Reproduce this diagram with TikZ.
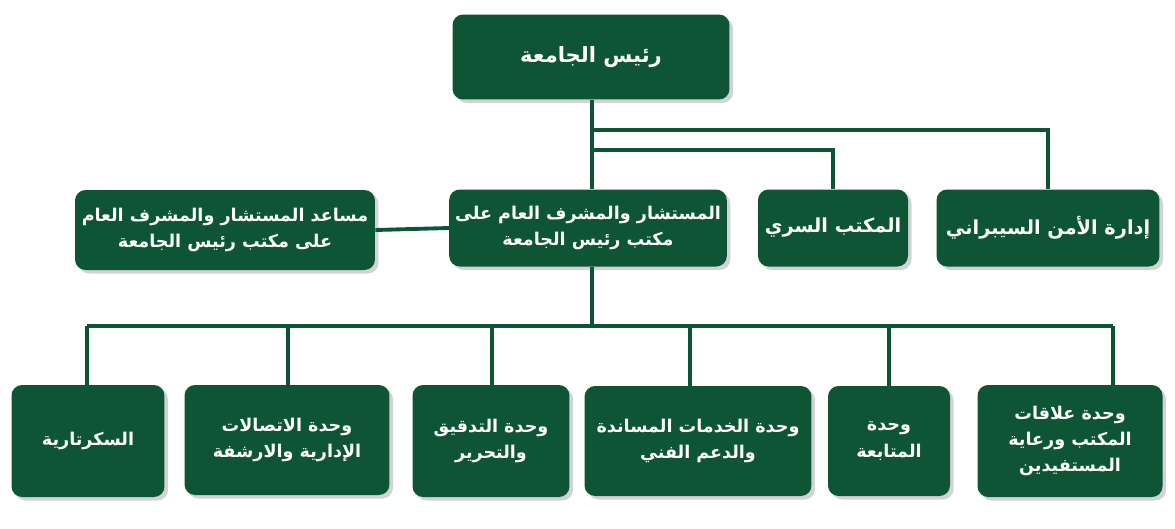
\documentclass[tikz,border=0pt]{standalone}
\usepackage{fontspec}
\newfontfamily\arabicfont[Script=Arabic]{DejaVu Sans}
\TeXXeTstate=1
\usepackage{tikz}
\usetikzlibrary{shadows}
\definecolor{unigreen}{HTML}{0E5536}
\newcommand{\ar}[1]{\beginR#1\endR}
\tikzset{unit/.style={draw=none,fill=unigreen,rounded corners=6pt,text=white,
  font=\arabicfont\bfseries\fontsize{10}{15}\selectfont,align=center,
  drop shadow={shadow xshift=2pt,shadow yshift=-2pt,opacity=0.35}},
  link/.style={draw=unigreen,line width=2.2pt}}

\begin{document}
\begin{tikzpicture}[x=0.02cm,y=-0.02cm]
  \useasboundingbox (0,0) rectangle (1175,528);
  \node[unit,minimum width=5.54cm,minimum height=1.7cm] (head) at (591,57) {\fontsize{12}{15}\selectfont\ar{رئيس الجامعة}};
  \node[unit,minimum width=5.54cm,minimum height=1.54cm] (adv) at (588,228) {\ar{المستشار والمشرف العام على}\\\ar{مكتب رئيس الجامعة}};
  \node[unit,minimum width=6cm,minimum height=1.6cm] (asst) at (225,230) {\ar{مساعد المستشار والمشرف العام}\\\ar{على مكتب رئيس الجامعة}};
  \node[unit,minimum width=3cm,minimum height=1.54cm] (secret) at (833,228) {\fontsize{11}{15}\selectfont\ar{المكتب السري}};
  \node[unit,minimum width=4.46cm,minimum height=1.54cm] (cyber) at (1048,228) {\fontsize{11}{15}\selectfont\ar{إدارة الأمن السيبراني}};

  \node[unit,minimum width=3.06cm,minimum height=2.24cm] (u1) at (88,441) {\ar{السكرتارية}};
  \node[unit,minimum width=4.1cm,minimum height=2.2cm] (u2) at (287,440) {\ar{وحدة الاتصالات}\\\ar{الإدارية والارشفة}};
  \node[unit,minimum width=3.14cm,minimum height=2.24cm] (u3) at (491,441) {\ar{وحدة التدقيق}\\\ar{والتحرير}};
  \node[unit,minimum width=4.54cm,minimum height=2.2cm] (u4) at (698,441) {\ar{وحدة الخدمات المساندة}\\\ar{والدعم الفني}};
  \node[unit,minimum width=2.44cm,minimum height=2.2cm] (u5) at (889,441) {\ar{وحدة}\\\ar{المتابعة}};
  \node[unit,minimum width=3.7cm,minimum height=2.24cm] (u6) at (1070,441) {\ar{وحدة علاقات}\\\ar{المكتب ورعاية}\\\ar{المستفيدين}};

  \draw[link] (head.south -| 592,0) -- (adv.north -| 592,0);
  \draw[link] (592,130) -| (cyber.north);
  \draw[link] (592,150) -| (secret.north);
  \draw[link] (asst.east) -- (adv.west);
  \draw[link] (adv.south -| 592,0) -- (592,326);
  \draw[link] (87,326) -- (1113,326);
  \foreach \n/\x in {u1/87,u2/288,u3/492,u4/690,u5/889,u6/1113}
    \draw[link] (\x,326) -- (\n.north -| \x,0);
\end{tikzpicture}
\end{document}
